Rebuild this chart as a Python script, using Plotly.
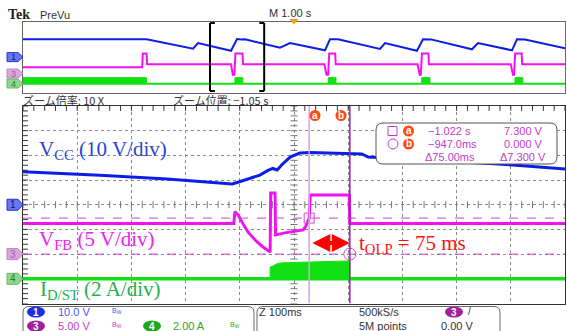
import numpy as np
import plotly.graph_objects as go

W, H = 567, 331


def px(x):
    return x / W


def py(y):
    return 1 - y / H


# ---------------- zoomed window: Z 100 ms/div, centre -1.05 s ----------------
VCC_T = [-1.550, -1.408, -1.284, -1.223, -1.164, -1.155, -1.140, -1.113, -1.098,
         -1.089, -1.081, -1.072, -1.057, -1.039, -1.020, -0.965, -0.925, -0.913,
         -0.781, -0.646, -0.550]
VCC_V = [13.4, 12.0, 10.4, 9.3, 8.4, 9.0, 10.0, 12.0, 13.9,
         14.7, 14.1, 16.3, 19.3, 21.0, 21.2, 21.0, 20.6, 19.3,
         17.9, 16.1, 14.5]

VFB_T = [-1.550, -1.161, -1.159, -1.153, -1.146, -1.135, -1.122, -1.109, -1.094,
         -1.093, -1.085, -1.084, -1.067, -1.033, -1.028, -1.022, -1.020, -0.948,
         -0.947, -0.550]
VFB_V = [6.2, 6.2, 8.6, 7.9, 6.5, 4.5, 2.9, 1.6, 0.4,
         12.4, 12.4, 3.9, 4.3, 4.9, 5.7, 7.3, 12.0, 12.0,
         6.2, 6.2]

ID_T = [-1.550, -0.550]
ID_A = [0.0, 0.0]
ID_BLK_T = [-1.094, -1.094, -1.088, -1.080, -1.070, -1.050, -1.030, -1.010, -0.990,
            -0.970, -0.950, -0.947, -0.947]
ID_BLK_A = [0.0, 0.95, 1.05, 1.25, 1.30, 1.32, 1.35, 1.38, 1.40,
            1.42, 1.45, 1.45, 0.0]

# cursors
CUR_A_T, CUR_A_V = -1.022, 7.300
CUR_B_T, CUR_B_V = -0.947, 0.000

# ---------------- PreVu record: M 1.00 s/div ----------------
PV_VCC_T = [-5.0, -2.72, -1.863, -1.771, -1.162, -1.052, -0.965, -0.904, -0.258,
            -0.074, 0.572, 0.664, 0.812, 1.587, 1.679, 2.269, 2.380, 2.528,
            3.284, 3.395, 4.022, 4.114, 4.262, 5.0]
PV_VCC_V = [20.1, 20.1, 9.5, 15.9, 7.2, 20.5, 19.9, 20.1, 10.6,
            15.9, 7.7, 20.1, 20.1, 9.2, 15.9, 7.2, 20.1, 20.0,
            8.8, 15.9, 7.7, 20.1, 20.0, 9.9]

PV_VFB_T = [-5.0, -2.80, -2.79, -2.72, -2.71,
            -1.16, -1.13, -1.10, -1.08, -0.95, -0.94,
            0.56, 0.60, 0.63, 0.65, 0.76, 0.77,
            2.28, 2.32, 2.34, 2.36, 2.48, 2.49,
            4.00, 4.04, 4.06, 4.08, 4.20, 4.21, 5.0]
PV_VFB_V = [4.2, 4.2, 12.1, 12.1, 5.9,
            5.9, 0.0, 0.0, 12.1, 12.1, 5.9,
            5.9, 0.0, 0.0, 12.1, 12.1, 5.9,
            5.9, 0.0, 0.0, 12.1, 12.1, 5.9,
            5.9, 0.0, 0.0, 12.1, 12.1, 5.9, 5.9]

PV_ID_START = [-5.0, -1.089, 0.633, 2.356, 4.077]
PV_ID_END = [-2.72, -0.946, 0.775, 2.509, 4.220]
PV_ID_PEAK = 1.36

# channel settings: units per division and ground position in divisions
CH1_SCALE, CH1_POS = 10.0, 0.0
CH3_SCALE, CH3_POS = 5.0, -2.0
CH4_SCALE, CH4_POS = 2.0, -3.0

BLUE = "#0c1ee6"
MAGENTA = "#f012f0"
GREEN = "#12e012"


def to_div(vals, scale, pos):
    return [v / scale + pos for v in vals]


fig = go.Figure()

# ---- PreVu traces ----
fig.add_trace(go.Scatter(x=[-5, 5], y=to_div([0, 0], CH4_SCALE, CH4_POS), xaxis="x2", yaxis="y2",
                         mode="lines", line=dict(color=GREEN, width=2), hoverinfo="skip"))
bx, by = [], []
for s, e in zip(PV_ID_START, PV_ID_END):
    bx += [s, s, e, e, None]
    by += to_div([0, PV_ID_PEAK, PV_ID_PEAK, 0], CH4_SCALE, CH4_POS) + [None]
fig.add_trace(go.Scatter(x=bx, y=by, xaxis="x2", yaxis="y2", mode="lines", fill="toself",
                         fillcolor=GREEN, line=dict(color=GREEN, width=1), hoverinfo="skip"))
fig.add_trace(go.Scatter(x=PV_VFB_T, y=to_div(PV_VFB_V, CH3_SCALE, CH3_POS), xaxis="x2", yaxis="y2",
                         mode="lines", line=dict(color=MAGENTA, width=2), hoverinfo="skip"))
fig.add_trace(go.Scatter(x=PV_VCC_T, y=to_div(PV_VCC_V, CH1_SCALE, CH1_POS), xaxis="x2", yaxis="y2",
                         mode="lines", line=dict(color=BLUE, width=2), hoverinfo="skip"))

# ---- graticule tick marks (main window) ----
tx = np.round(np.arange(-1.55, -0.5499, 0.02), 4)
ty = np.round(np.arange(-4, 4.0001, 0.2), 4)
edge_tick = dict(color="#333", size=7, line=dict(color="#333", width=1))
mid_tick = dict(color="#777", size=5, line=dict(color="#777", width=1))
fig.add_trace(go.Scatter(x=tx, y=np.full(tx.size, 4.0), mode="markers",
                         marker=dict(symbol="line-ns", **edge_tick), hoverinfo="skip"))
fig.add_trace(go.Scatter(x=tx, y=np.zeros(tx.size), mode="markers",
                         marker=dict(symbol="line-ns", **mid_tick), hoverinfo="skip"))
fig.add_trace(go.Scatter(x=np.full(ty.size, -1.55), y=ty, mode="markers",
                         marker=dict(symbol="line-ew", **edge_tick), hoverinfo="skip"))
fig.add_trace(go.Scatter(x=np.full(ty.size, -1.05), y=ty, mode="markers",
                         marker=dict(symbol="line-ew", **mid_tick), hoverinfo="skip"))

# ---- main traces ----
fig.add_trace(go.Scatter(x=ID_T, y=to_div(ID_A, CH4_SCALE, CH4_POS), mode="lines",
                         line=dict(color=GREEN, width=3.5), hoverinfo="skip"))
fig.add_trace(go.Scatter(x=ID_BLK_T, y=to_div(ID_BLK_A, CH4_SCALE, CH4_POS), mode="lines",
                         fill="toself", fillcolor=GREEN, line=dict(color=GREEN, width=1),
                         hoverinfo="skip"))
fig.add_trace(go.Scatter(x=VFB_T, y=to_div(VFB_V, CH3_SCALE, CH3_POS), mode="lines",
                         line=dict(color=MAGENTA, width=3), hoverinfo="skip"))
fig.add_trace(go.Scatter(x=VCC_T, y=to_div(VCC_V, CH1_SCALE, CH1_POS), mode="lines",
                         line=dict(color=BLUE, width=3), hoverinfo="skip"))

# cursor markers on the VFB trace
fig.add_trace(go.Scatter(x=[CUR_A_T], y=to_div([CUR_A_V], CH3_SCALE, CH3_POS), mode="markers",
                         marker=dict(symbol="square-open", size=10, color="#c850c8",
                                     line=dict(width=1)), hoverinfo="skip"))
fig.add_trace(go.Scatter(x=[CUR_B_T], y=to_div([CUR_B_V], CH3_SCALE, CH3_POS), mode="markers",
                         marker=dict(symbol="circle-open", size=12, color="#c850c8",
                                     line=dict(width=1)), hoverinfo="skip"))

shapes = []
annotations = []

# cursor lines
for yv in (CUR_A_V, CUR_B_V):
    d = yv / CH3_SCALE + CH3_POS
    shapes.append(dict(type="line", xref="x", yref="y", x0=-1.55, x1=-0.55, y0=d, y1=d,
                       line=dict(color="#d040d0", width=1, dash="dash"), layer="above"))
shapes.append(dict(type="line", xref="x", yref="y", x0=CUR_A_T, x1=CUR_A_T, y0=-4, y1=4,
                   line=dict(color="#dca0ec", width=1.5), layer="above"))
shapes.append(dict(type="line", xref="x", yref="y", x0=CUR_B_T, x1=CUR_B_T, y0=-4, y1=4,
                   line=dict(color="#9a22b0", width=1.5), layer="above"))


def rrect(x0, y0, x1, y1, r):
    p = [f"M {px(x0 + r)},{py(y0)}", f"L {px(x1 - r)},{py(y0)}",
         f"Q {px(x1)},{py(y0)} {px(x1)},{py(y0 + r)}", f"L {px(x1)},{py(y1 - r)}",
         f"Q {px(x1)},{py(y1)} {px(x1 - r)},{py(y1)}", f"L {px(x0 + r)},{py(y1)}",
         f"Q {px(x0)},{py(y1)} {px(x0)},{py(y1 - r)}", f"L {px(x0)},{py(y0 + r)}",
         f"Q {px(x0)},{py(y0)} {px(x0 + r)},{py(y0)}", "Z"]
    return " ".join(p)


def tag(xl, xr, yc, h):
    pts = [(xl, yc - h / 2), (xr - 5, yc - h / 2), (xr, yc), (xr - 5, yc + h / 2), (xl, yc + h / 2)]
    return "M " + " L ".join(f"{px(x)},{py(y)}" for x, y in pts) + " Z"


def text(x, y, s, size=11, color="#333", anchor="left", family="Liberation Sans", **kw):
    annotations.append(dict(x=px(x), y=py(y), xref="paper", yref="paper", text=s, showarrow=False,
                            xanchor=anchor, yanchor="middle", font=dict(size=size, color=color,
                                                                         family=family), **kw))


# cursor readout box
shapes.append(dict(type="path", path=rrect(376, 123, 557, 164, 7), xref="paper", yref="paper",
                   fillcolor="white", line=dict(color="#555", width=1), layer="above"))
CUR_COL = "#c03cc8"
# square / circle glyphs identifying the two cursors
shapes.append(dict(type="rect", xref="paper", yref="paper", x0=px(388), x1=px(397),
                   y0=py(135.5), y1=py(126.5), line=dict(color=CUR_COL, width=1), layer="above"))
shapes.append(dict(type="circle", xref="paper", yref="paper", x0=px(388), x1=px(398),
                   y0=py(149), y1=py(139), line=dict(color=CUR_COL, width=1), layer="above"))
for cy, lab in ((131, "a"), (144, "b")):
    shapes.append(dict(type="circle", xref="paper", yref="paper", x0=px(403), x1=px(414),
                       y0=py(cy + 5.5), y1=py(cy - 5.5), fillcolor="#ff4a10", line=dict(width=0),
                       layer="above"))
    text(408.5, cy, f"<b>{lab}</b>", 10, "white", anchor="center")
text(426, 131, "\u22121.022 s", 11, CUR_COL)
text(426, 144, "\u2212947.0ms", 11, CUR_COL)
text(423, 157, "\u039475.00ms", 11, CUR_COL)
text(545, 131, "7.300 V", 11, CUR_COL, anchor="right")
text(545, 144, "0.000 V", 11, CUR_COL, anchor="right")
text(548, 157, "\u03947.300 V", 11, CUR_COL, anchor="right")

# cursor identifiers at the top of the window
for cx, lab in ((315, "a"), (341, "b")):
    shapes.append(dict(type="circle", xref="paper", yref="paper", x0=px(cx - 5.5), x1=px(cx + 5.5),
                       y0=py(121), y1=py(110), fillcolor="#ff4a10", line=dict(width=0),
                       layer="above"))
    text(cx, 115.5, f"<b>{lab}</b>", 10, "white", anchor="center")

# t_OLP arrow
annotations.append(dict(x=CUR_B_T, y=-1.55, ax=CUR_A_T + 0.003, ay=-1.55, xref="x", yref="y",
                        axref="x", ayref="y", text="", showarrow=True, arrowhead=2,
                        startarrowhead=2, arrowside="end+start", arrowwidth=4, arrowsize=0.9,
                        startarrowsize=0.9, arrowcolor="#ff0000"))

# waveform labels
SERIF = "Liberation Serif"
text(37, 150, "V<sub>CC</sub> (10 V/div)", 21, "#2846d2", family=SERIF)
text(37, 240, "V<sub>FB</sub> (5 V/div)", 21, "#f020f0", family=SERIF)
text(38, 290, "I<sub>D/ST</sub> (2 A/div)", 21, "#22b24a", family=SERIF)
text(357, 244, "t<sub>OLP</sub> = 75 ms", 21, "#ff1010", family=SERIF)

# channel ground tags, main window
for yc, lab, fc, lc, tc in ((204.75, "1", "#6676f4", "#2233dd", "#10107a"),
                            (254.1, "3", "#dca8dc", "#c080c8", "#a05aa8"),
                            (278.8, "4", "#8ed88e", "#60b860", "#2e7a2e")):
    shapes.append(dict(type="path", path=tag(7, 23, yc, 11), xref="paper", yref="paper",
                       fillcolor=fc, line=dict(color=lc, width=1)))
    text(13, yc, lab, 10, tc, anchor="center")

# channel ground tags, PreVu
for yc, lab, fc, lc, tc in ((57.1, "1", "#6676f4", "#2233dd", "#10107a"),
                            (73.5, "3", "#dca8dc", "#c080c8", "#a05aa8"),
                            (83.5, "4", "#8ed88e", "#60b860", "#2e7a2e")):
    shapes.append(dict(type="path", path=tag(7, 23, yc, 9), xref="paper", yref="paper",
                       fillcolor=fc, line=dict(color=lc, width=1)))
    text(13, yc, lab, 9, tc, anchor="center")

# zoom window brackets in the PreVu record
for edge, sgn in ((-1.55, 1), (-0.55, -1)):
    shapes.append(dict(type="line", xref="x2", yref="paper", x0=edge, x1=edge, y0=py(91), y1=py(23),
                       line=dict(color="black", width=2)))
    for yy in (23, 91):
        shapes.append(dict(type="line", xref="x2", yref="paper", x0=edge, x1=edge + sgn * 0.09,
                           y0=py(yy), y1=py(yy), line=dict(color="black", width=2)))

# trigger position marker
shapes.append(dict(type="path", path=f"M {px(289.5)},{py(19)} L {px(298.5)},{py(19)} L {px(294)},{py(24.5)} Z",
                   xref="paper", yref="paper", fillcolor="#f29a22", line=dict(width=0)))

# header texts
text(6, 15, "<b>Tek</b>", 14, "#222", family="Liberation Serif")
text(38, 15, "PreVu", 11, "#333")
text(267, 13, "M 1.00 s", 11, "#333")
JP = "Noto Sans CJK JP"
text(21, 100, "ズーム倍率: 10 X", 11, "#333", family=JP)
text(171, 100, "ズーム位置: \u22121.05 s", 11, "#333", family=JP)

# bottom status bar
shapes.append(dict(type="path", path=rrect(23, 306.5, 254, 345, 6), xref="paper", yref="paper",
                   fillcolor="white", line=dict(color="#666", width=1)))
shapes.append(dict(type="path", path=rrect(257, 306.5, 500, 345, 6), xref="paper", yref="paper",
                   fillcolor="white", line=dict(color="#666", width=1)))
for x0, yc, lab, col in ((27, 312, "1", "#1a2ee8"), (27, 326, "3", "#a0209e"),
                         (143, 326, "4", "#1ea81e"), (445, 312, "3", "#a0209e")):
    shapes.append(dict(type="circle", xref="paper", yref="paper", x0=px(x0), x1=px(x0 + 18),
                       y0=py(yc + 5.5), y1=py(yc - 5.5), fillcolor=col, line=dict(width=0)))
    text(x0 + 9, yc, f"<b>{lab}</b>", 10, "white", anchor="center")
text(56, 312, "10.0 V", 11, "#4858e6")
text(56, 326, "5.00 V", 11, "#c43ec4")
text(171, 326, "2.00 A", 11, "#2aa82a")
text(110, 311, "B<sub>W</sub>", 7, "#4858e6")
text(110, 325, "B<sub>W</sub>", 7, "#c43ec4")
text(228, 325, "B<sub>W</sub>", 7, "#2aa82a")
text(257, 312, "Z 100ms", 11, "#333")
text(357, 312, "500kS/s", 11, "#333")
text(357, 326, "5M points", 11, "#333")
text(466, 311, "/", 10, "#333")
text(475, 326, "0.00 V", 11, "#333", anchor="right")

axis_common = dict(showticklabels=False, zeroline=False, showline=True, mirror=True, ticks="")
fig.update_layout(
    width=W, height=H, margin=dict(l=0, r=0, t=0, b=0),
    paper_bgcolor="white", plot_bgcolor="rgba(0,0,0,0)", showlegend=False,
    xaxis=dict(domain=[px(23), px(565)], range=[-1.55, -0.55], dtick=0.1, tick0=-1.55,
               showgrid=True, gridcolor="#8a8a8a", griddash="dot", gridwidth=1,
               linecolor="#333", linewidth=1, anchor="y", **axis_common),
    yaxis=dict(domain=[py(303.5), py(106)], range=[-4, 4], dtick=1, tick0=-4,
               showgrid=True, gridcolor="#8a8a8a", griddash="dot", gridwidth=1,
               linecolor="#333", linewidth=1, anchor="x", **axis_common),
    xaxis2=dict(domain=[px(23), px(565)], range=[-5, 5], showgrid=False, linecolor="#666",
                linewidth=1, anchor="y2", **axis_common),
    yaxis2=dict(domain=[py(92.5), py(21.7)], range=[-4, 4], showgrid=False, linecolor="#666",
                linewidth=1, anchor="x2", **axis_common),
    shapes=shapes, annotations=annotations,
)

fig.write_html("out.html")
